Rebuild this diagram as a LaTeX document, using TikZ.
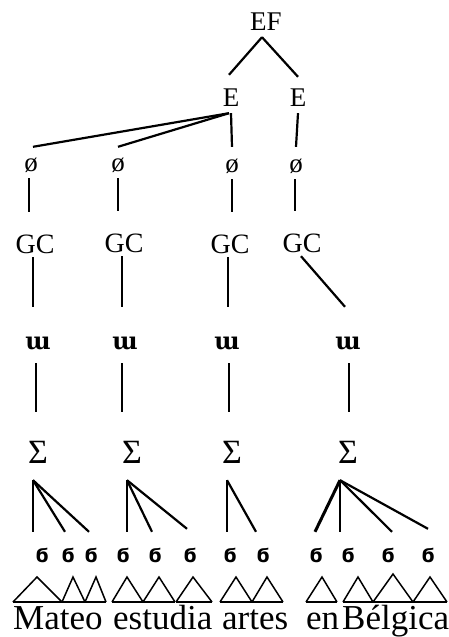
\documentclass[tikz,border=0pt]{standalone}
\usepackage{fontspec}
\setmainfont{Liberation Serif}
\newfontfamily\dvs{DejaVu Serif}
\newfontfamily\dvsans{DejaVu Sans}
\begin{document}
\begin{tikzpicture}[x=1pt,y=-1pt,
  lab/.style={inner sep=0pt, anchor=base},
  efrow/.style={lab, font=\fontsize{27}{27}\selectfont, text height=20pt, text depth=7pt},
  erow/.style={lab, font=\fontsize{27}{27}\selectfont, text height=31pt, text depth=7pt},
  prow/.style={lab, font=\fontsize{27}{27}\selectfont, text height=25pt, text depth=7pt},
  gcrow/.style={lab, font=\fontsize{28}{28}\selectfont, text height=41pt, text depth=4pt},
  wrow/.style={lab, font=\dvs\bfseries\fontsize{24}{24}\selectfont, text height=42pt, text depth=14pt},
  srow/.style={lab, font=\fontsize{34}{34}\selectfont, text height=51pt, text depth=17pt},
  orow/.style={lab, font=\dvsans\bfseries\fontsize{19}{19}\selectfont, text height=30pt, text depth=0pt},
  word/.style={inner sep=0pt, anchor=base west, font=\fontsize{35}{35}\selectfont},
  conn/.style={line width=2.2pt},
  tri/.style={line width=1.5pt},
  triBase/.style={line width=2.4pt}]
\useasboundingbox (0,0) rectangle (448,637);
% nodes
\node[efrow] (ef) at (266,30) {EF};
\node[erow] (e1) at (231,106) {E};
\node[erow] (e2) at (298,106) {E};
\node[prow] (p1) at (31,171) {ø};
\node[prow] (p2) at (118,171) {ø};
\node[prow] (p3) at (232,172) {ø};
\node[prow] (p4) at (296,172) {ø};
\node[gcrow] (g1) at (35,253) {GC};
\node[gcrow] (g2) at (124,252) {GC};
\node[gcrow] (g3) at (230,253) {GC};
\node[gcrow] (g4) at (302,252) {GC};
\node[wrow] (w1) at (38,349) {ɯ};
\node[wrow] (w2) at (125,349) {ɯ};
\node[wrow] (w3) at (227,349) {ɯ};
\node[wrow] (w4) at (348,349) {ɯ};
\node[srow] (s1) at (38,463) {Σ};
\node[srow] (s2) at (132,463) {Σ};
\node[srow] (s3) at (232,463) {Σ};
\node[srow] (s4) at (348,463) {Σ};
\foreach \i/\x in {1/42,2/68,3/91,4/123,5/155,6/190,7/230,8/263,9/316,10/348,11/388,12/428}
  \node[orow] (o\i) at (\x,562) {ϭ};
\node[word] (m) at (13,629) {Mateo};
\node[word] (es) at (113,629) {estudia};
\node[word] (ar) at (222,629) {artes};
\node[word] (en) at (306,629) {en};
\node[word] (be) at (342,629) {Bélgica};
% connectors
\draw[conn] ([xshift=-4pt]ef.south) -- ([xshift=-2pt]e1.north);
\draw[conn] ([xshift=-4pt]ef.south) -- ([yshift=-2pt]e2.north);
\draw[conn] ([xshift=-2pt]e1.south) -- ([xshift=2pt,yshift=-1pt]p1.north);
\draw[conn] ([xshift=-2pt]e1.south) -- ([yshift=-1pt]p2.north);
\draw[conn] (e1.south) -- (p3.north);
\draw[conn] (e2.south) -- (p4.north);
\draw[conn] ([xshift=-2pt]p1.south) -- ([xshift=-2pt]p1.south |- g1.north);
\draw[conn] (p2.south) -- (p2.south |- g2.north);
\draw[conn] (p3.south) -- (p3.south |- g3.north);
\draw[conn] ([xshift=-1pt]p4.south) -- ([xshift=-1pt]p4.south |- g4.north);
\draw[conn] ([xshift=-2pt]g1.south) -- ([xshift=-2pt]g1.south |- w1.north);
\draw[conn] ([xshift=-2pt]g2.south) -- ([xshift=-2pt]g2.south |- w2.north);
\draw[conn] ([xshift=-2pt]g3.south) -- ([xshift=-2pt]g3.south |- w3.north);
\draw[conn] ([xshift=-1pt]g4.south) -- ([xshift=-3pt]w4.north);
\draw[conn] ([xshift=-2pt]w1.south) -- ([xshift=-2pt]w1.south |- s1.north);
\draw[conn] ([xshift=-3pt]w2.south) -- ([xshift=-3pt]w2.south |- s2.north);
\draw[conn] ([xshift=2pt]w3.south) -- ([xshift=2pt]w3.south |- s3.north);
\draw[conn] ([xshift=1pt]w4.south) -- ([xshift=1pt]w4.south |- s4.north);
\draw[conn] ([xshift=-5pt]s1.south) -- ([xshift=-9pt]o1.north);
\draw[conn] ([xshift=-5pt]s1.south) -- ([xshift=-3pt]o2.north);
\draw[conn] ([xshift=-5pt]s1.south) -- ([xshift=-2pt]o3.north);
\draw[conn] ([xshift=-5pt]s2.south) -- ([xshift=4pt]o4.north);
\draw[conn] ([xshift=-5pt]s2.south) -- ([xshift=-3pt]o5.north);
\draw[conn] ([xshift=-5pt]s2.south) -- ([xshift=-3pt,yshift=3pt]o6.north);
\draw[conn] ([xshift=-5pt]s3.south) -- ([xshift=-3pt]o7.north);
\draw[conn] ([xshift=-5pt]s3.south) -- ([xshift=-7pt]o8.north);
\draw[conn,line width=3pt] ([xshift=-8pt]s4.south) -- ([xshift=-1pt]o9.north);
\draw[conn] ([xshift=-8pt]s4.south) -- ([xshift=-8pt]o10.north);
\draw[conn] ([xshift=-8pt]s4.south) -- ([xshift=4pt]o11.north);
\draw[conn] ([xshift=-8pt]s4.south) -- ([yshift=3pt]o12.north);
% triangles
\foreach \l/\a/\r/\t in {13/37/62/577,62/73/85/577,85/96/106/577,112/127/143/577,143/159/175/577,176/193/212/577,220/236/252/577,252/267/283/577,306/322/337/577,343/358/373/577,373/393/413/574,413/430/447/577}{
  \draw[tri] (\l,602) -- (\a,\t) -- (\r,602);
  \draw[triBase] (\l,602) -- (\r,602);
}
\end{tikzpicture}
\end{document}
